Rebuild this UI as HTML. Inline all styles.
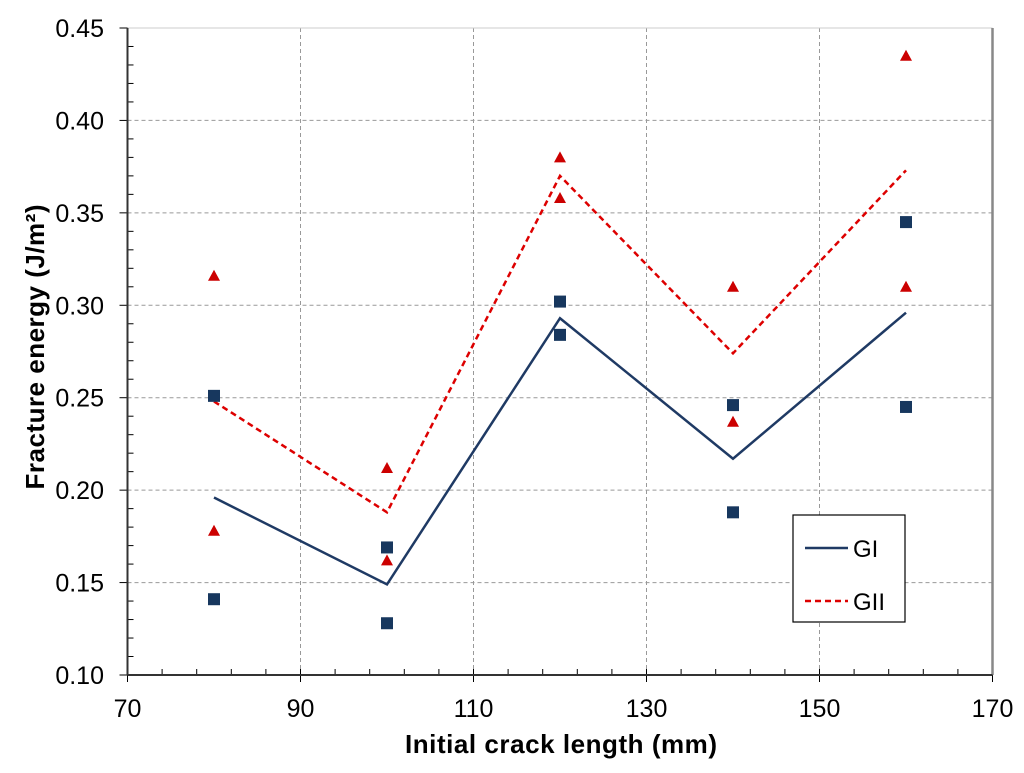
<!DOCTYPE html>
<html><head><meta charset="utf-8"><style>
body{margin:0;background:#fff;}
svg{font-family:"Liberation Sans",Arial,sans-serif;}
</style></head><body>
<svg width="1024" height="768">
<g id="grid"></g><g id="axes"></g><g id="series"></g>
<g>
<rect x="793" y="515" width="112" height="107" fill="#fff" stroke="#000" stroke-width="1.2"/>
<line x1="805" y1="548" x2="848" y2="548" stroke="#1f3a64" stroke-width="2.5"/>
<text x="853" y="557" font-size="24">GI</text>
<line x1="805" y1="601" x2="848" y2="601" stroke="#d00" stroke-width="2.5" stroke-dasharray="6,4"/>
<text x="853" y="610" font-size="24">GII</text>
</g>
<text x="561" y="753" font-size="26" font-weight="bold" text-anchor="middle" textLength="312">Initial crack length (mm)</text>
<text transform="translate(44,347) rotate(-90)" font-size="26" font-weight="bold" text-anchor="middle" textLength="285">Fracture energy (J/m²)</text>
</svg>
<script>
const xCats=[80,100,120,140,160];
const giPoints1=[0.251,0.169,0.302,0.246,0.345];
const giPoints2=[0.141,0.128,0.284,0.188,0.245];
const giiPoints1=[0.316,0.212,0.380,0.310,0.435];
const giiPoints2=[0.178,0.162,0.358,0.237,0.310];
const giMean=[0.196,0.149,0.293,0.217,0.296];
const giiMean=[0.248,0.188,0.370,0.274,0.373];
const xTicks=[70,90,110,130,150,170];
const yTicks=[0.10,0.15,0.20,0.25,0.30,0.35,0.40,0.45];
const NS="http://www.w3.org/2000/svg";
const X=v=>127.5+(v-70)*8.65;
const Y=v=>675-(v-0.10)*1848.6;
function mk(tag,attrs,parent){const e=document.createElementNS(NS,tag);for(const k in attrs)e.setAttribute(k,attrs[k]);document.getElementById(parent).appendChild(e);return e;}
for(const t of yTicks){
 if(t>0.101){const g=mk('line',{x1:X(70),x2:X(170),y1:Y(t),y2:Y(t),stroke:'#999','stroke-dasharray':'4,3','stroke-width':1},'grid');
 
 }
 const tk=mk('line',{x1:X(70)-8,x2:X(70),y1:Y(t),y2:Y(t),stroke:'#000'},'axes');
 
 
 const l=mk('text',{x:104,y:Y(t)+9,'font-size':25,'text-anchor':'end'},'axes');l.textContent=t.toFixed(2);
 
 
}
for(let t=74;t<170;t+=4){if((t-70)%20===0)continue;const m=mk('line',{x1:X(t),x2:X(t),y1:669,y2:675,stroke:'#000'},'axes');
 
 }
for(let k=11;k<45;k++){if(k%5===0)continue;const t=k/100;const m=mk('line',{x1:X(70),x2:X(70)+6,y1:Y(t),y2:Y(t),stroke:'#000'},'axes');
 
 }
for(const t of xTicks){
 if(t>70&&t<170){const g=mk('line',{x1:X(t),x2:X(t),y1:Y(0.45),y2:675,stroke:'#999','stroke-dasharray':'4,3'},'grid');
 
 }
 const tk=mk('line',{x1:X(t),x2:X(t),y1:669,y2:682,stroke:'#000'},'axes');
 
 
 const l=mk('text',{x:X(t),y:717,'font-size':25,'text-anchor':'middle'},'axes');l.textContent=t;
 
 
}
const tb=mk('line',{x1:X(70),x2:X(170),y1:Y(0.45),y2:Y(0.45),stroke:'#ccc'},'axes');


const rb=mk('line',{x1:X(170),x2:X(170),y1:Y(0.45),y2:675,stroke:'#888','stroke-width':2.5},'axes');


const ya=mk('line',{x1:X(70),x2:X(70),y1:Y(0.45),y2:675,stroke:'#333','stroke-width':2},'axes');


const xa=mk('line',{x1:X(70),x2:X(170),y1:675,y2:675,stroke:'#333','stroke-width':2},'axes');


const pl1=mk('polyline',{points:xCats.map((c,i)=>X(c)+','+Y(giMean[i])).join(' '),fill:'none',stroke:'#1f3a64','stroke-width':2.5},'series');


const pl2=mk('polyline',{points:xCats.map((c,i)=>X(c)+','+Y(giiMean[i])).join(' '),fill:'none',stroke:'#d00','stroke-width':2.5,'stroke-dasharray':'6,4'},'series');


for(const arr of [giPoints1,giPoints2])xCats.forEach((c,i)=>{
 const r=mk('rect',{x:X(c)-6,y:Y(arr[i])-6,width:12,height:12,fill:'#17375e'},'series');
 
 });
for(const arr of [giiPoints1,giiPoints2])xCats.forEach((c,i)=>{
 const x=X(c),y=Y(arr[i]);
 const p=mk('polygon',{points:`${x-6},${y+5} ${x+6},${y+5} ${x},${y-6}`,fill:'#c00'},'series');
 
 });
</script>
</body></html>
